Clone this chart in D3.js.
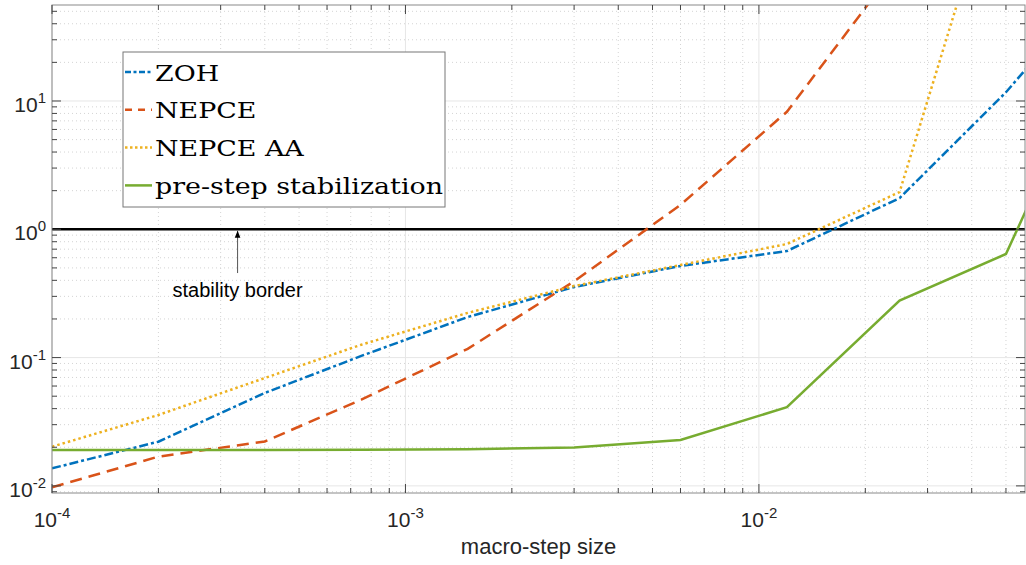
<!DOCTYPE html>
<html>
<head>
<meta charset="utf-8">
<script src="https://cdn.jsdelivr.net/npm/d3@7"></script>
<style>
  body { margin: 0; background: #fff; }
  text { font-family: "Liberation Sans", Arial, sans-serif; }
</style>
</head>
<body>
<svg id="chart"></svg>
<script>
// macro-step sizes (x) and the values per method (y)
const stepSizes = [1e-4, 2e-4, 4e-4, 7.5e-4, 1.5e-3, 3e-3, 6e-3, 1.2e-2, 2.5e-2, 5e-2, 1e-1]
const zoh = [0.0137, 0.0221, 0.053, 0.103, 0.207, 0.355, 0.518, 0.677, 1.75, 11.7, 107]
const nepce = [0.00975, 0.0169, 0.0222, 0.047, 0.117, 0.393, 1.55, 8.24, 120, 1e4, 1e5]
const nepceAA = [0.0202, 0.0357, 0.0693, 0.126, 0.223, 0.361, 0.527, 0.768, 1.95, 1000, 1e5]
const preStep = [0.0190, 0.0190, 0.0190, 0.0191, 0.0193, 0.0199, 0.0228, 0.041, 0.2777, 0.642, 41]

const seriesNames = ['ZOH', 'NEPCE', 'NEPCE AA', 'pre-step stabilization']
const seriesValues = [zoh, nepce, nepceAA, preStep]
const seriesColors = ['#0072bd', '#d95319', '#edb120', '#77ac30']
const seriesDash = ['9,3,3,3', '12,7', '2.5,3', null]
const legendDash = ['6,2.5,3,2.5', '7,6', '2.5,2.5', null]

const xDomain = [1e-4, 0.0566]
const yDomain = [0.0088, 56]
const xTickExp = [-4, -3, -2]
const yTickExp = [-2, -1, 0, 1]
const stabilityLevel = 1
const arrowAt = { x: 3.35e-4, from: 0.456, to: 0.975, label: 0.297 }

const width = 1026
const height = 565
const margin = { left: 52, right: 1, top: 5, bottom: 72 }

const svg = d3.select('#chart').attr('width', width).attr('height', height)

const x = d3.scaleLog().domain(xDomain).range([margin.left, width - margin.right])
const y = d3.scaleLog().domain(yDomain).range([height - margin.bottom, margin.top])

const [x0, x1] = x.range()
const [y0, y1] = y.range()

const defs = svg.append('defs')
defs.append('clipPath').attr('id', 'plot-clip')
  .append('rect').attr('x', x0).attr('y', y1).attr('width', x1 - x0).attr('height', y0 - y1)

// minor / major values inside the domain
function logValues(domain) {
  const major = [], minor = []
  for (let e = Math.floor(Math.log10(domain[0])); e <= Math.ceil(Math.log10(domain[1])); e++) {
    for (let m = 1; m < 10; m++) {
      const v = m * Math.pow(10, e)
      if (v < domain[0] * 0.9999 || v > domain[1] * 1.0001) continue
      if (m === 1) major.push(v)
      else minor.push(v)
    }
  }
  return { major, minor }
}

const xv = logValues(xDomain)
const yv = logValues(yDomain)

const grid = svg.append('g')
grid.selectAll(null).data(xv.minor).enter().append('line')
  .attr('x1', d => x(d)).attr('x2', d => x(d)).attr('y1', y0).attr('y2', y1)
  .attr('stroke', '#d4d4d4').attr('stroke-dasharray', '1,3').attr('stroke-width', 1)
grid.selectAll(null).data(yv.minor).enter().append('line')
  .attr('y1', d => y(d)).attr('y2', d => y(d)).attr('x1', x0).attr('x2', x1)
  .attr('stroke', '#d4d4d4').attr('stroke-dasharray', '1,3').attr('stroke-width', 1)
grid.selectAll(null).data(xv.major).enter().append('line')
  .attr('x1', d => x(d)).attr('x2', d => x(d)).attr('y1', y0).attr('y2', y1)
  .attr('stroke', '#e6e6e6').attr('stroke-width', 1)
grid.selectAll(null).data(yv.major).enter().append('line')
  .attr('y1', d => y(d)).attr('y2', d => y(d)).attr('x1', x0).attr('x2', x1)
  .attr('stroke', '#e6e6e6').attr('stroke-width', 1)

// stability border
svg.append('line')
  .attr('x1', x0).attr('x2', x1)
  .attr('y1', y(stabilityLevel)).attr('y2', y(stabilityLevel))
  .attr('stroke', '#000').attr('stroke-width', 2.5)

// series
const line = d3.line().x((d, i) => x(stepSizes[i])).y(d => y(d))
const lines = svg.append('g').attr('clip-path', 'url(#plot-clip)')
seriesValues.forEach((vals, i) => {
  lines.append('path')
    .datum(vals)
    .attr('d', line)
    .attr('fill', 'none')
    .attr('stroke', seriesColors[i])
    .attr('stroke-width', 2.5)
    .attr('stroke-dasharray', seriesDash[i])
})

// axes box with inward ticks on every side
const axisColor = '#8a8a8a'
const box = svg.append('g')
box.append('rect').attr('x', x0).attr('y', y1).attr('width', x1 - x0).attr('height', y0 - y1)
  .attr('fill', 'none').attr('stroke', axisColor).attr('stroke-width', 1)

function xTicks(vals, len) {
  box.selectAll(null).data(vals).enter().append('line')
    .attr('x1', d => x(d)).attr('x2', d => x(d)).attr('y1', y0).attr('y2', y0 - len)
    .attr('stroke', '#444')
  box.selectAll(null).data(vals).enter().append('line')
    .attr('x1', d => x(d)).attr('x2', d => x(d)).attr('y1', y1).attr('y2', y1 + len)
    .attr('stroke', '#444')
}
function yTicks(vals, len) {
  box.selectAll(null).data(vals).enter().append('line')
    .attr('y1', d => y(d)).attr('y2', d => y(d)).attr('x1', x0).attr('x2', x0 + len)
    .attr('stroke', '#444')
  box.selectAll(null).data(vals).enter().append('line')
    .attr('y1', d => y(d)).attr('y2', d => y(d)).attr('x1', x1).attr('x2', x1 - len)
    .attr('stroke', '#444')
}
xTicks(xv.major, 9)
xTicks(xv.minor, 5)
yTicks(yv.major, 9)
yTicks(yv.minor, 5)

// tick labels 10^n
const xl = svg.append('g').selectAll('text').data(xTickExp).enter().append('text')
  .attr('x', d => x(Math.pow(10, d)))
  .attr('y', y0 + 34)
  .attr('text-anchor', 'middle')
  .attr('font-size', 21)
  .attr('fill', '#262626')
xl.append('tspan').text('10')
xl.append('tspan').attr('dy', -9).attr('font-size', 15).text(d => d)

const yl = svg.append('g').selectAll('text').data(yTickExp).enter().append('text')
  .attr('x', x0 - 6)
  .attr('y', d => y(Math.pow(10, d)) + 11)
  .attr('text-anchor', 'end')
  .attr('font-size', 21)
  .attr('fill', '#262626')
yl.append('tspan').text('10')
yl.append('tspan').attr('dy', -9).attr('font-size', 15).text(d => d)

svg.append('text')
  .attr('x', (x0 + x1) / 2)
  .attr('y', height - 11)
  .attr('text-anchor', 'middle')
  .attr('font-size', 22)
  .attr('fill', '#262626')
  .text('macro-step size')

// stability border annotation
defs.append('marker')
  .attr('id', 'arrow').attr('viewBox', '0 0 10 10').attr('refX', 10).attr('refY', 5)
  .attr('markerWidth', 7).attr('markerHeight', 7).attr('orient', 'auto')
  .append('path').attr('d', 'M0,1 L10,5 L0,9 Z').attr('fill', '#000')
svg.append('line')
  .attr('x1', x(arrowAt.x)).attr('x2', x(arrowAt.x))
  .attr('y1', y(arrowAt.from)).attr('y2', y(arrowAt.to))
  .attr('stroke', '#555').attr('stroke-width', 1)
  .attr('marker-end', 'url(#arrow)')
svg.append('text')
  .attr('x', x(arrowAt.x))
  .attr('y', y(arrowAt.label))
  .attr('text-anchor', 'middle')
  .attr('font-size', 20)
  .attr('fill', '#000')
  .text('stability border')

// legend
const legend = svg.append('g').attr('transform', 'translate(123,52)')
legend.append('rect').attr('width', 322).attr('height', 155)
  .attr('fill', '#fff').attr('stroke', '#777').attr('stroke-width', 1)
const rows = legend.selectAll('g.row').data(seriesNames).enter().append('g')
  .attr('transform', (d, i) => `translate(0 ${20 + i * 37.8})`)
rows.append('line')
  .attr('x1', 2).attr('x2', 29).attr('y1', 0).attr('y2', 0)
  .attr('stroke', (d, i) => seriesColors[i])
  .attr('stroke-width', 2.5)
  .attr('stroke-dasharray', (d, i) => legendDash[i])
const labels = rows.append('text')
  .attr('x', 32).attr('y', 8.5)
  .style('font-family', '"DejaVu Serif", serif')
  .attr('font-size', 22.5)
  .attr('fill', '#000')
  .text(d => d)

// computer-modern-like wide glyphs: stretch so the longest entry fills the box
const longest = d3.max(labels.nodes(), n => n.getComputedTextLength())
const stretch = 288 / longest
labels.each(function () {
  const w = this.getComputedTextLength()
  d3.select(this).attr('textLength', w * stretch).attr('lengthAdjust', 'spacingAndGlyphs')
})
</script>
</body>
</html>
